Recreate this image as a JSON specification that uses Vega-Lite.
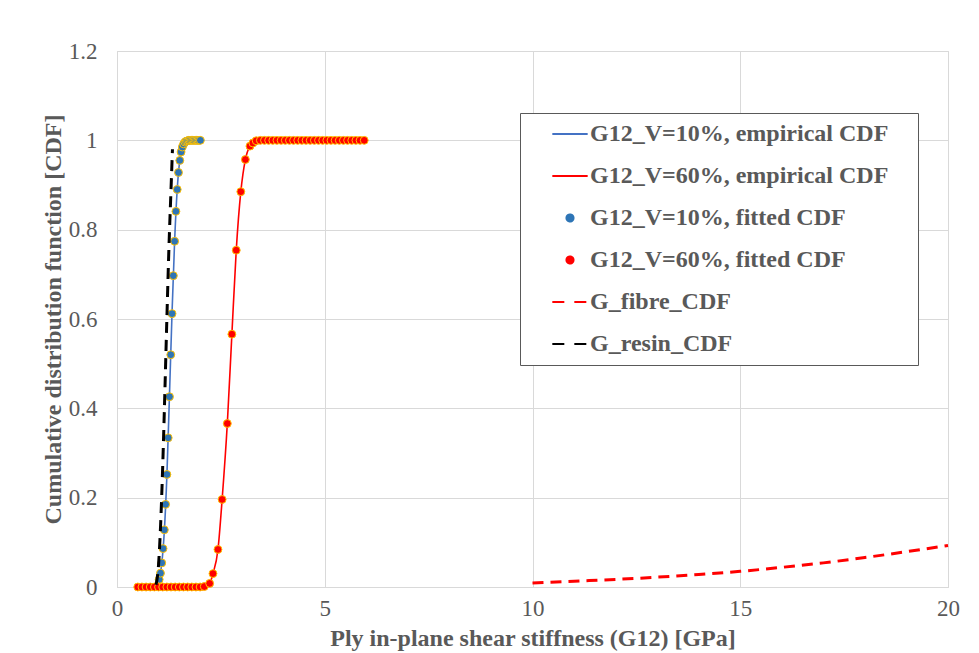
{
  "$schema": "https://vega.github.io/schema/vega-lite/v6.json",
  "width": 831,
  "height": 536,
  "autosize": {"type": "none"},
  "padding": {"left": 117, "top": 51, "right": 31, "bottom": 66},
  "background": "white",
  "config": {
    "view": {"stroke": "#d9d9d9", "strokeWidth": 1},
    "axis": {
      "grid": true,
      "gridColor": "#d9d9d9",
      "gridWidth": 1,
      "domainColor": "#d9d9d9",
      "domainWidth": 1,
      "ticks": false,
      "labelFlush": false,
      "labelOverlap": false,
      "labelFont": "Liberation Serif",
      "labelFontSize": 23,
      "labelColor": "#595959",
      "titleFont": "Liberation Serif",
      "titleFontSize": 24,
      "titleFontWeight": "bold",
      "titleColor": "#595959"
    }
  },
  "data": {
    "values": [
      {"series": "G12_V=10%, empirical CDF", "kind": "line", "x": 0.98, "y": 0.0},
      {"series": "G12_V=10%, empirical CDF", "kind": "line", "x": 1.015, "y": 0.015},
      {"series": "G12_V=10%, empirical CDF", "kind": "line", "x": 1.077, "y": 0.052},
      {"series": "G12_V=10%, empirical CDF", "kind": "line", "x": 1.139, "y": 0.125},
      {"series": "G12_V=10%, empirical CDF", "kind": "line", "x": 1.201, "y": 0.25},
      {"series": "G12_V=10%, empirical CDF", "kind": "line", "x": 1.263, "y": 0.43},
      {"series": "G12_V=10%, empirical CDF", "kind": "line", "x": 1.325, "y": 0.615},
      {"series": "G12_V=10%, empirical CDF", "kind": "line", "x": 1.387, "y": 0.775},
      {"series": "G12_V=10%, empirical CDF", "kind": "line", "x": 1.449, "y": 0.89},
      {"series": "G12_V=10%, empirical CDF", "kind": "line", "x": 1.511, "y": 0.955},
      {"series": "G12_V=10%, empirical CDF", "kind": "line", "x": 1.573, "y": 0.985},
      {"series": "G12_V=10%, empirical CDF", "kind": "line", "x": 1.65, "y": 0.997},
      {"series": "G12_V=10%, empirical CDF", "kind": "line", "x": 1.75, "y": 1.0},

      {"series": "G12_V=60%, empirical CDF", "kind": "line", "x": 2.1, "y": 0.0},
      {"series": "G12_V=60%, empirical CDF", "kind": "line", "x": 2.23, "y": 0.008},
      {"series": "G12_V=60%, empirical CDF", "kind": "line", "x": 2.31, "y": 0.03},
      {"series": "G12_V=60%, empirical CDF", "kind": "line", "x": 2.43, "y": 0.084},
      {"series": "G12_V=60%, empirical CDF", "kind": "line", "x": 2.53, "y": 0.196},
      {"series": "G12_V=60%, empirical CDF", "kind": "line", "x": 2.655, "y": 0.366},
      {"series": "G12_V=60%, empirical CDF", "kind": "line", "x": 2.765, "y": 0.566},
      {"series": "G12_V=60%, empirical CDF", "kind": "line", "x": 2.87, "y": 0.754},
      {"series": "G12_V=60%, empirical CDF", "kind": "line", "x": 2.98, "y": 0.885},
      {"series": "G12_V=60%, empirical CDF", "kind": "line", "x": 3.09, "y": 0.957},
      {"series": "G12_V=60%, empirical CDF", "kind": "line", "x": 3.2, "y": 0.987},
      {"series": "G12_V=60%, empirical CDF", "kind": "line", "x": 3.35, "y": 0.999},
      {"series": "G12_V=60%, empirical CDF", "kind": "line", "x": 3.6, "y": 1.0},

      {"series": "G12_V=10%, fitted CDF", "kind": "point", "x": 1.015, "y": 0.017},
      {"series": "G12_V=10%, fitted CDF", "kind": "point", "x": 1.046, "y": 0.031},
      {"series": "G12_V=10%, fitted CDF", "kind": "point", "x": 1.077, "y": 0.054},
      {"series": "G12_V=10%, fitted CDF", "kind": "point", "x": 1.108, "y": 0.086},
      {"series": "G12_V=10%, fitted CDF", "kind": "point", "x": 1.139, "y": 0.128},
      {"series": "G12_V=10%, fitted CDF", "kind": "point", "x": 1.17, "y": 0.185},
      {"series": "G12_V=10%, fitted CDF", "kind": "point", "x": 1.201, "y": 0.252},
      {"series": "G12_V=10%, fitted CDF", "kind": "point", "x": 1.232, "y": 0.334},
      {"series": "G12_V=10%, fitted CDF", "kind": "point", "x": 1.263, "y": 0.426},
      {"series": "G12_V=10%, fitted CDF", "kind": "point", "x": 1.294, "y": 0.52},
      {"series": "G12_V=10%, fitted CDF", "kind": "point", "x": 1.325, "y": 0.612},
      {"series": "G12_V=10%, fitted CDF", "kind": "point", "x": 1.356, "y": 0.697},
      {"series": "G12_V=10%, fitted CDF", "kind": "point", "x": 1.387, "y": 0.774},
      {"series": "G12_V=10%, fitted CDF", "kind": "point", "x": 1.418, "y": 0.841},
      {"series": "G12_V=10%, fitted CDF", "kind": "point", "x": 1.449, "y": 0.89},
      {"series": "G12_V=10%, fitted CDF", "kind": "point", "x": 1.48, "y": 0.928},
      {"series": "G12_V=10%, fitted CDF", "kind": "point", "x": 1.511, "y": 0.955},
      {"series": "G12_V=10%, fitted CDF", "kind": "point", "x": 1.542, "y": 0.974},
      {"series": "G12_V=10%, fitted CDF", "kind": "point", "x": 1.573, "y": 0.985},
      {"series": "G12_V=10%, fitted CDF", "kind": "point", "x": 1.604, "y": 0.992},
      {"series": "G12_V=10%, fitted CDF", "kind": "point", "x": 1.635, "y": 0.996},
      {"series": "G12_V=10%, fitted CDF", "kind": "point", "x": 1.666, "y": 0.998},
      {"series": "G12_V=10%, fitted CDF", "kind": "point", "x": 1.697, "y": 0.999},
      {"series": "G12_V=10%, fitted CDF", "kind": "point", "x": 1.728, "y": 1.0},
      {"series": "G12_V=10%, fitted CDF", "kind": "point", "x": 1.759, "y": 1.0},
      {"series": "G12_V=10%, fitted CDF", "kind": "point", "x": 1.79, "y": 1.0},
      {"series": "G12_V=10%, fitted CDF", "kind": "point", "x": 1.821, "y": 1.0},
      {"series": "G12_V=10%, fitted CDF", "kind": "point", "x": 1.852, "y": 1.0},
      {"series": "G12_V=10%, fitted CDF", "kind": "point", "x": 1.883, "y": 1.0},
      {"series": "G12_V=10%, fitted CDF", "kind": "point", "x": 1.914, "y": 1.0},
      {"series": "G12_V=10%, fitted CDF", "kind": "point", "x": 1.945, "y": 1.0},
      {"series": "G12_V=10%, fitted CDF", "kind": "point", "x": 1.976, "y": 1.0},
      {"series": "G12_V=10%, fitted CDF", "kind": "point", "x": 2.007, "y": 1.0},

      {"series": "G12_V=60%, fitted CDF", "kind": "point", "x": 0.5, "y": 0.0},
      {"series": "G12_V=60%, fitted CDF", "kind": "point", "x": 0.6, "y": 0.0},
      {"series": "G12_V=60%, fitted CDF", "kind": "point", "x": 0.7, "y": 0.0},
      {"series": "G12_V=60%, fitted CDF", "kind": "point", "x": 0.8, "y": 0.0},
      {"series": "G12_V=60%, fitted CDF", "kind": "point", "x": 0.9, "y": 0.0},
      {"series": "G12_V=60%, fitted CDF", "kind": "point", "x": 1.0, "y": 0.0},
      {"series": "G12_V=60%, fitted CDF", "kind": "point", "x": 1.1, "y": 0.0},
      {"series": "G12_V=60%, fitted CDF", "kind": "point", "x": 1.2, "y": 0.0},
      {"series": "G12_V=60%, fitted CDF", "kind": "point", "x": 1.3, "y": 0.0},
      {"series": "G12_V=60%, fitted CDF", "kind": "point", "x": 1.4, "y": 0.0},
      {"series": "G12_V=60%, fitted CDF", "kind": "point", "x": 1.5, "y": 0.0},
      {"series": "G12_V=60%, fitted CDF", "kind": "point", "x": 1.6, "y": 0.0},
      {"series": "G12_V=60%, fitted CDF", "kind": "point", "x": 1.7, "y": 0.0},
      {"series": "G12_V=60%, fitted CDF", "kind": "point", "x": 1.8, "y": 0.0},
      {"series": "G12_V=60%, fitted CDF", "kind": "point", "x": 1.9, "y": 0.0},
      {"series": "G12_V=60%, fitted CDF", "kind": "point", "x": 2.0, "y": 0.0},
      {"series": "G12_V=60%, fitted CDF", "kind": "point", "x": 2.1, "y": 0.001},
      {"series": "G12_V=60%, fitted CDF", "kind": "point", "x": 2.23, "y": 0.008},
      {"series": "G12_V=60%, fitted CDF", "kind": "point", "x": 2.31, "y": 0.03},
      {"series": "G12_V=60%, fitted CDF", "kind": "point", "x": 2.43, "y": 0.084},
      {"series": "G12_V=60%, fitted CDF", "kind": "point", "x": 2.53, "y": 0.196},
      {"series": "G12_V=60%, fitted CDF", "kind": "point", "x": 2.655, "y": 0.366},
      {"series": "G12_V=60%, fitted CDF", "kind": "point", "x": 2.765, "y": 0.566},
      {"series": "G12_V=60%, fitted CDF", "kind": "point", "x": 2.87, "y": 0.754},
      {"series": "G12_V=60%, fitted CDF", "kind": "point", "x": 2.98, "y": 0.885},
      {"series": "G12_V=60%, fitted CDF", "kind": "point", "x": 3.09, "y": 0.957},
      {"series": "G12_V=60%, fitted CDF", "kind": "point", "x": 3.2, "y": 0.987},
      {"series": "G12_V=60%, fitted CDF", "kind": "point", "x": 3.27, "y": 0.994},
      {"series": "G12_V=60%, fitted CDF", "kind": "point", "x": 3.35, "y": 0.999},
      {"series": "G12_V=60%, fitted CDF", "kind": "point", "x": 3.45, "y": 1.0},
      {"series": "G12_V=60%, fitted CDF", "kind": "point", "x": 3.55, "y": 1.0},
      {"series": "G12_V=60%, fitted CDF", "kind": "point", "x": 3.65, "y": 1.0},
      {"series": "G12_V=60%, fitted CDF", "kind": "point", "x": 3.75, "y": 1.0},
      {"series": "G12_V=60%, fitted CDF", "kind": "point", "x": 3.85, "y": 1.0},
      {"series": "G12_V=60%, fitted CDF", "kind": "point", "x": 3.95, "y": 1.0},
      {"series": "G12_V=60%, fitted CDF", "kind": "point", "x": 4.05, "y": 1.0},
      {"series": "G12_V=60%, fitted CDF", "kind": "point", "x": 4.15, "y": 1.0},
      {"series": "G12_V=60%, fitted CDF", "kind": "point", "x": 4.25, "y": 1.0},
      {"series": "G12_V=60%, fitted CDF", "kind": "point", "x": 4.35, "y": 1.0},
      {"series": "G12_V=60%, fitted CDF", "kind": "point", "x": 4.45, "y": 1.0},
      {"series": "G12_V=60%, fitted CDF", "kind": "point", "x": 4.55, "y": 1.0},
      {"series": "G12_V=60%, fitted CDF", "kind": "point", "x": 4.65, "y": 1.0},
      {"series": "G12_V=60%, fitted CDF", "kind": "point", "x": 4.75, "y": 1.0},
      {"series": "G12_V=60%, fitted CDF", "kind": "point", "x": 4.85, "y": 1.0},
      {"series": "G12_V=60%, fitted CDF", "kind": "point", "x": 4.95, "y": 1.0},
      {"series": "G12_V=60%, fitted CDF", "kind": "point", "x": 5.05, "y": 1.0},
      {"series": "G12_V=60%, fitted CDF", "kind": "point", "x": 5.15, "y": 1.0},
      {"series": "G12_V=60%, fitted CDF", "kind": "point", "x": 5.25, "y": 1.0},
      {"series": "G12_V=60%, fitted CDF", "kind": "point", "x": 5.35, "y": 1.0},
      {"series": "G12_V=60%, fitted CDF", "kind": "point", "x": 5.45, "y": 1.0},
      {"series": "G12_V=60%, fitted CDF", "kind": "point", "x": 5.55, "y": 1.0},
      {"series": "G12_V=60%, fitted CDF", "kind": "point", "x": 5.65, "y": 1.0},
      {"series": "G12_V=60%, fitted CDF", "kind": "point", "x": 5.75, "y": 1.0},
      {"series": "G12_V=60%, fitted CDF", "kind": "point", "x": 5.85, "y": 1.0},
      {"series": "G12_V=60%, fitted CDF", "kind": "point", "x": 5.95, "y": 1.0},

      {"series": "G_fibre_CDF", "kind": "dash", "x": 10, "y": 0.009},
      {"series": "G_fibre_CDF", "kind": "dash", "x": 11, "y": 0.013},
      {"series": "G_fibre_CDF", "kind": "dash", "x": 12, "y": 0.017},
      {"series": "G_fibre_CDF", "kind": "dash", "x": 13, "y": 0.022},
      {"series": "G_fibre_CDF", "kind": "dash", "x": 14, "y": 0.028},
      {"series": "G_fibre_CDF", "kind": "dash", "x": 15, "y": 0.035},
      {"series": "G_fibre_CDF", "kind": "dash", "x": 16, "y": 0.044},
      {"series": "G_fibre_CDF", "kind": "dash", "x": 17, "y": 0.054},
      {"series": "G_fibre_CDF", "kind": "dash", "x": 18, "y": 0.066},
      {"series": "G_fibre_CDF", "kind": "dash", "x": 19, "y": 0.079},
      {"series": "G_fibre_CDF", "kind": "dash", "x": 20, "y": 0.093},

      {"series": "G_resin_CDF", "kind": "dash", "x": 0.94, "y": 0.005},
      {"series": "G_resin_CDF", "kind": "dash", "x": 1.0, "y": 0.05},
      {"series": "G_resin_CDF", "kind": "dash", "x": 1.05, "y": 0.14},
      {"series": "G_resin_CDF", "kind": "dash", "x": 1.1, "y": 0.27},
      {"series": "G_resin_CDF", "kind": "dash", "x": 1.15, "y": 0.43},
      {"series": "G_resin_CDF", "kind": "dash", "x": 1.2, "y": 0.6},
      {"series": "G_resin_CDF", "kind": "dash", "x": 1.25, "y": 0.76},
      {"series": "G_resin_CDF", "kind": "dash", "x": 1.3, "y": 0.89},
      {"series": "G_resin_CDF", "kind": "dash", "x": 1.335, "y": 0.98}
    ]
  },
  "encoding": {
    "x": {
      "field": "x",
      "type": "quantitative",
      "scale": {"domain": [0, 20], "nice": false, "zero": false},
      "axis": {
        "values": [0, 5, 10, 15, 20],
        "labelPadding": 10,
        "titlePadding": 6,
        "title": "Ply in-plane shear stiffness (G12) [GPa]"
      }
    },
    "y": {
      "field": "y",
      "type": "quantitative",
      "scale": {"domain": [0, 1.2], "nice": false},
      "axis": {
        "values": [0, 0.2, 0.4, 0.6, 0.8, 1, 1.2],
        "format": "~g",
        "labelPadding": 20,
        "titlePadding": 3,
        "title": "Cumulative distribution function [CDF]"
      }
    },
    "color": {
      "field": "series",
      "type": "nominal",
      "scale": {
        "domain": ["G12_V=10%, empirical CDF", "G12_V=60%, empirical CDF", "G12_V=10%, fitted CDF", "G12_V=60%, fitted CDF", "G_fibre_CDF", "G_resin_CDF"],
        "range": ["#4472C4", "#FF0000", "#2E75B6", "#FF0000", "#FF0000", "#000000"]
      },
      "legend": {
        "orient": "none",
        "legendX": 403,
        "legendY": 62,
        "title": "\u00a0",
        "titleOrient": "right",
        "titlePadding": 21,
        "titleFontSize": 24,
        "strokeColor": "#595959",
        "fillColor": "white",
        "padding": 9,
        "labelFont": "Liberation Serif",
        "labelFontSize": 24,
        "labelFontWeight": "bold",
        "labelColor": "#595959",
        "labelLimit": 0,
        "symbolSize": 50,
        "symbolStrokeWidth": 2,
        "symbolType": "circle",
        "symbolOffset": 29,
        "labelOffset": 8,
        "rowPadding": 18,
        "encode": {
          "symbols": {
            "update": {
              "shape": {"signal": "indexof(datum.value, 'fitted') >= 0 ? 'circle' : 'M-5,0H5'"},
              "fill": {"signal": "datum.value == 'G12_V=10%, fitted CDF' ? '#2E75B6' : (datum.value == 'G12_V=60%, fitted CDF' ? '#FF0000' : 'transparent')"},
              "stroke": {"signal": "indexof(datum.value, 'fitted') >= 0 ? '#FFC000' : (datum.value == 'G12_V=10%, empirical CDF' ? '#4472C4' : (datum.value == 'G_resin_CDF' ? '#000000' : '#FF0000'))"},
              "strokeDash": {"signal": "indexof(datum.value, '_CDF') >= 0 ? [12, 10] : [1, 0]"},
              "opacity": {"value": 1}
            }
          }
        }
      }
    }
  },
  "layer": [
    {
      "transform": [{"filter": "datum.kind == 'line'"}],
      "mark": {"type": "line", "strokeWidth": 1.6, "interpolate": "monotone"}
    },
    {
      "transform": [{"filter": "datum.kind == 'point'"}],
      "mark": {"type": "point", "filled": true, "stroke": "#FFC000", "strokeWidth": 1, "size": 62, "opacity": 1}
    },
    {
      "transform": [{"filter": "datum.kind == 'dash'"}],
      "mark": {"type": "line", "strokeWidth": 3, "strokeDash": [11, 7], "interpolate": "monotone"}
    }
  ]
}
